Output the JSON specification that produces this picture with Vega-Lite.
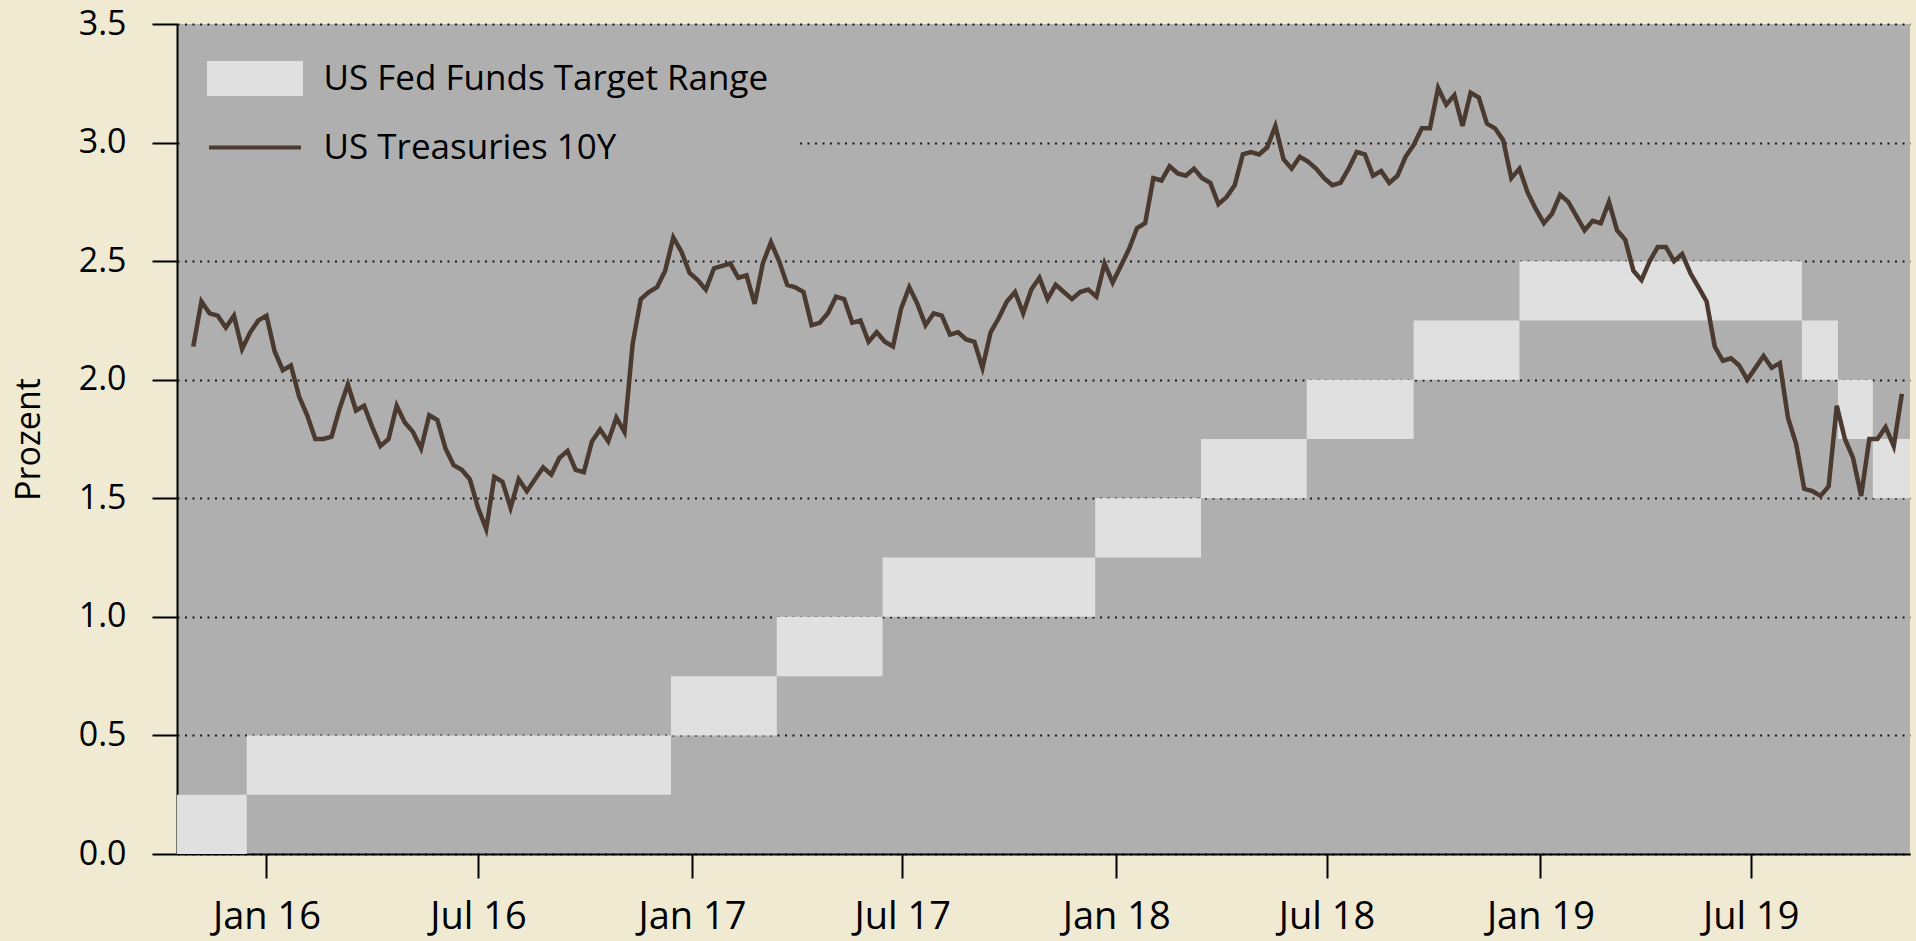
{
  "$schema": "https://vega.github.io/schema/vega-lite/v6.json",
  "width": 1733,
  "height": 830,
  "autosize": {"type": "none"},
  "padding": {"left": 177, "top": 24, "right": 6, "bottom": 87},
  "background": "#f0ead2",
  "config": {
    "view": {"fill": "#afafaf", "stroke": null},
    "font": "Open Sans",
    "axis": {
      "labelFont": "Open Sans",
      "labelFontSize": 34,
      "labelColor": "#000000",
      "titleFont": "Open Sans",
      "titleFontSize": 34,
      "titleFontWeight": "normal",
      "titleColor": "#000000",
      "domainColor": "#000000",
      "domainWidth": 2,
      "tickColor": "#000000",
      "tickWidth": 2,
      "zindex": 1
    }
  },
  "datasets": {
    "fed": [
      {"start": "2015-10-16", "end": "2015-12-15", "lo": 0.0, "hi": 0.25},
      {"start": "2015-12-15", "end": "2016-12-14", "lo": 0.25, "hi": 0.5},
      {"start": "2016-12-14", "end": "2017-03-15", "lo": 0.5, "hi": 0.75},
      {"start": "2017-03-15", "end": "2017-06-14", "lo": 0.75, "hi": 1.0},
      {"start": "2017-06-14", "end": "2017-12-14", "lo": 1.0, "hi": 1.25},
      {"start": "2017-12-14", "end": "2018-03-15", "lo": 1.25, "hi": 1.5},
      {"start": "2018-03-15", "end": "2018-06-14", "lo": 1.5, "hi": 1.75},
      {"start": "2018-06-14", "end": "2018-09-14", "lo": 1.75, "hi": 2.0},
      {"start": "2018-09-14", "end": "2018-12-14", "lo": 2.0, "hi": 2.25},
      {"start": "2018-12-14", "end": "2019-08-14", "lo": 2.25, "hi": 2.5},
      {"start": "2019-08-14", "end": "2019-09-14", "lo": 2.0, "hi": 2.25},
      {"start": "2019-09-14", "end": "2019-10-14", "lo": 1.75, "hi": 2.0},
      {"start": "2019-10-14", "end": "2019-11-15", "lo": 1.5, "hi": 1.75}
    ],
    "ust": [
      {"date": "2015-10-30", "value": 2.14}, {"date": "2015-11-06", "value": 2.33}, {"date": "2015-11-13", "value": 2.28}, {"date": "2015-11-20", "value": 2.27}, {"date": "2015-11-27", "value": 2.22},
      {"date": "2015-12-04", "value": 2.27}, {"date": "2015-12-11", "value": 2.13}, {"date": "2015-12-18", "value": 2.20}, {"date": "2015-12-25", "value": 2.25}, {"date": "2016-01-01", "value": 2.27},
      {"date": "2016-01-08", "value": 2.12}, {"date": "2016-01-15", "value": 2.04}, {"date": "2016-01-22", "value": 2.06}, {"date": "2016-01-29", "value": 1.93}, {"date": "2016-02-05", "value": 1.85},
      {"date": "2016-02-12", "value": 1.75}, {"date": "2016-02-19", "value": 1.75}, {"date": "2016-02-26", "value": 1.76}, {"date": "2016-03-04", "value": 1.88}, {"date": "2016-03-11", "value": 1.98},
      {"date": "2016-03-18", "value": 1.87}, {"date": "2016-03-25", "value": 1.89}, {"date": "2016-04-01", "value": 1.80}, {"date": "2016-04-08", "value": 1.72}, {"date": "2016-04-15", "value": 1.75},
      {"date": "2016-04-22", "value": 1.89}, {"date": "2016-04-29", "value": 1.82}, {"date": "2016-05-06", "value": 1.78}, {"date": "2016-05-13", "value": 1.71}, {"date": "2016-05-20", "value": 1.85},
      {"date": "2016-05-27", "value": 1.83}, {"date": "2016-06-03", "value": 1.71}, {"date": "2016-06-10", "value": 1.64}, {"date": "2016-06-17", "value": 1.62}, {"date": "2016-06-24", "value": 1.58},
      {"date": "2016-07-01", "value": 1.46}, {"date": "2016-07-08", "value": 1.37}, {"date": "2016-07-15", "value": 1.59}, {"date": "2016-07-22", "value": 1.57}, {"date": "2016-07-29", "value": 1.46},
      {"date": "2016-08-05", "value": 1.58}, {"date": "2016-08-12", "value": 1.53}, {"date": "2016-08-19", "value": 1.58}, {"date": "2016-08-26", "value": 1.63}, {"date": "2016-09-02", "value": 1.60},
      {"date": "2016-09-09", "value": 1.67}, {"date": "2016-09-16", "value": 1.70}, {"date": "2016-09-23", "value": 1.62}, {"date": "2016-09-30", "value": 1.61}, {"date": "2016-10-07", "value": 1.74},
      {"date": "2016-10-14", "value": 1.79}, {"date": "2016-10-21", "value": 1.74}, {"date": "2016-10-28", "value": 1.84}, {"date": "2016-11-04", "value": 1.78}, {"date": "2016-11-11", "value": 2.15},
      {"date": "2016-11-18", "value": 2.34}, {"date": "2016-11-25", "value": 2.37}, {"date": "2016-12-02", "value": 2.39}, {"date": "2016-12-09", "value": 2.46}, {"date": "2016-12-16", "value": 2.60},
      {"date": "2016-12-23", "value": 2.54}, {"date": "2016-12-30", "value": 2.45}, {"date": "2017-01-06", "value": 2.42}, {"date": "2017-01-13", "value": 2.38}, {"date": "2017-01-20", "value": 2.47},
      {"date": "2017-01-27", "value": 2.48}, {"date": "2017-02-03", "value": 2.49}, {"date": "2017-02-10", "value": 2.43}, {"date": "2017-02-17", "value": 2.44}, {"date": "2017-02-24", "value": 2.32},
      {"date": "2017-03-03", "value": 2.49}, {"date": "2017-03-10", "value": 2.58}, {"date": "2017-03-17", "value": 2.50}, {"date": "2017-03-24", "value": 2.40}, {"date": "2017-03-31", "value": 2.39},
      {"date": "2017-04-07", "value": 2.37}, {"date": "2017-04-14", "value": 2.23}, {"date": "2017-04-21", "value": 2.24}, {"date": "2017-04-28", "value": 2.28}, {"date": "2017-05-05", "value": 2.35},
      {"date": "2017-05-12", "value": 2.34}, {"date": "2017-05-19", "value": 2.24}, {"date": "2017-05-26", "value": 2.25}, {"date": "2017-06-02", "value": 2.16}, {"date": "2017-06-09", "value": 2.20},
      {"date": "2017-06-16", "value": 2.16}, {"date": "2017-06-23", "value": 2.14}, {"date": "2017-06-30", "value": 2.30}, {"date": "2017-07-07", "value": 2.39}, {"date": "2017-07-14", "value": 2.32},
      {"date": "2017-07-21", "value": 2.23}, {"date": "2017-07-28", "value": 2.28}, {"date": "2017-08-04", "value": 2.27}, {"date": "2017-08-11", "value": 2.19}, {"date": "2017-08-18", "value": 2.20},
      {"date": "2017-08-25", "value": 2.17}, {"date": "2017-09-01", "value": 2.16}, {"date": "2017-09-08", "value": 2.05}, {"date": "2017-09-15", "value": 2.20}, {"date": "2017-09-22", "value": 2.26},
      {"date": "2017-09-29", "value": 2.33}, {"date": "2017-10-06", "value": 2.37}, {"date": "2017-10-13", "value": 2.28}, {"date": "2017-10-20", "value": 2.38}, {"date": "2017-10-27", "value": 2.43},
      {"date": "2017-11-03", "value": 2.34}, {"date": "2017-11-10", "value": 2.40}, {"date": "2017-11-17", "value": 2.37}, {"date": "2017-11-24", "value": 2.34}, {"date": "2017-12-01", "value": 2.37},
      {"date": "2017-12-08", "value": 2.38}, {"date": "2017-12-15", "value": 2.35}, {"date": "2017-12-22", "value": 2.49}, {"date": "2017-12-29", "value": 2.41}, {"date": "2018-01-05", "value": 2.48},
      {"date": "2018-01-12", "value": 2.55}, {"date": "2018-01-19", "value": 2.64}, {"date": "2018-01-26", "value": 2.66}, {"date": "2018-02-02", "value": 2.85}, {"date": "2018-02-09", "value": 2.84},
      {"date": "2018-02-16", "value": 2.90}, {"date": "2018-02-23", "value": 2.87}, {"date": "2018-03-02", "value": 2.86}, {"date": "2018-03-09", "value": 2.89}, {"date": "2018-03-16", "value": 2.85},
      {"date": "2018-03-23", "value": 2.83}, {"date": "2018-03-30", "value": 2.74}, {"date": "2018-04-06", "value": 2.77}, {"date": "2018-04-13", "value": 2.82}, {"date": "2018-04-20", "value": 2.95},
      {"date": "2018-04-27", "value": 2.96}, {"date": "2018-05-04", "value": 2.95}, {"date": "2018-05-11", "value": 2.98}, {"date": "2018-05-18", "value": 3.07}, {"date": "2018-05-25", "value": 2.93},
      {"date": "2018-06-01", "value": 2.89}, {"date": "2018-06-08", "value": 2.94}, {"date": "2018-06-15", "value": 2.92}, {"date": "2018-06-22", "value": 2.89}, {"date": "2018-06-29", "value": 2.85},
      {"date": "2018-07-06", "value": 2.82}, {"date": "2018-07-13", "value": 2.83}, {"date": "2018-07-20", "value": 2.89}, {"date": "2018-07-27", "value": 2.96}, {"date": "2018-08-03", "value": 2.95},
      {"date": "2018-08-10", "value": 2.86}, {"date": "2018-08-17", "value": 2.88}, {"date": "2018-08-24", "value": 2.83}, {"date": "2018-08-31", "value": 2.86}, {"date": "2018-09-07", "value": 2.94},
      {"date": "2018-09-14", "value": 2.99}, {"date": "2018-09-21", "value": 3.06}, {"date": "2018-09-28", "value": 3.06}, {"date": "2018-10-05", "value": 3.23}, {"date": "2018-10-12", "value": 3.16},
      {"date": "2018-10-19", "value": 3.20}, {"date": "2018-10-26", "value": 3.07}, {"date": "2018-11-02", "value": 3.21}, {"date": "2018-11-09", "value": 3.19}, {"date": "2018-11-16", "value": 3.08},
      {"date": "2018-11-23", "value": 3.06}, {"date": "2018-11-30", "value": 3.01}, {"date": "2018-12-07", "value": 2.85}, {"date": "2018-12-14", "value": 2.89}, {"date": "2018-12-21", "value": 2.79},
      {"date": "2018-12-28", "value": 2.72}, {"date": "2019-01-04", "value": 2.66}, {"date": "2019-01-11", "value": 2.70}, {"date": "2019-01-18", "value": 2.78}, {"date": "2019-01-25", "value": 2.75},
      {"date": "2019-02-01", "value": 2.69}, {"date": "2019-02-08", "value": 2.63}, {"date": "2019-02-15", "value": 2.67}, {"date": "2019-02-22", "value": 2.66}, {"date": "2019-03-01", "value": 2.75},
      {"date": "2019-03-08", "value": 2.63}, {"date": "2019-03-15", "value": 2.59}, {"date": "2019-03-22", "value": 2.46}, {"date": "2019-03-29", "value": 2.42}, {"date": "2019-04-05", "value": 2.50},
      {"date": "2019-04-12", "value": 2.56}, {"date": "2019-04-19", "value": 2.56}, {"date": "2019-04-26", "value": 2.50}, {"date": "2019-05-03", "value": 2.53}, {"date": "2019-05-10", "value": 2.45},
      {"date": "2019-05-17", "value": 2.39}, {"date": "2019-05-24", "value": 2.33}, {"date": "2019-05-31", "value": 2.14}, {"date": "2019-06-07", "value": 2.08}, {"date": "2019-06-14", "value": 2.09},
      {"date": "2019-06-21", "value": 2.06}, {"date": "2019-06-28", "value": 2.00}, {"date": "2019-07-05", "value": 2.05}, {"date": "2019-07-12", "value": 2.10}, {"date": "2019-07-19", "value": 2.05},
      {"date": "2019-07-26", "value": 2.07}, {"date": "2019-08-02", "value": 1.84}, {"date": "2019-08-09", "value": 1.73}, {"date": "2019-08-16", "value": 1.54}, {"date": "2019-08-23", "value": 1.53},
      {"date": "2019-08-30", "value": 1.51}, {"date": "2019-09-06", "value": 1.55}, {"date": "2019-09-13", "value": 1.89}, {"date": "2019-09-20", "value": 1.75}, {"date": "2019-09-27", "value": 1.67},
      {"date": "2019-10-04", "value": 1.51}, {"date": "2019-10-11", "value": 1.75}, {"date": "2019-10-18", "value": 1.75}, {"date": "2019-10-25", "value": 1.80}, {"date": "2019-11-01", "value": 1.72},
      {"date": "2019-11-08", "value": 1.94}
    ]
  },
  "layer": [
    {
      "data": {"name": "fed"},
      "mark": {"type": "rect", "clip": true},
      "encoding": {
        "x": {
          "field": "start", "type": "temporal",
          "scale": {"domain": [{"year": 2015, "month": 10, "date": 16, "utc": true}, {"year": 2019, "month": 11, "date": 15, "utc": true}]},
          "axis": {
            "title": null, "format": "%b %y", "tickCount": {"interval": "month", "step": 6},
            "tickSize": 24, "labelPadding": 20, "labelFontSize": 38, "grid": false, "labelFlush": false
          }
        },
        "x2": {"field": "end"},
        "y": {
          "field": "lo", "type": "quantitative",
          "scale": {"domain": [0, 3.5], "nice": false, "zero": true},
          "axis": {
            "title": "Prozent", "values": [0, 0.5, 1, 1.5, 2, 2.5, 3, 3.5], "format": ".1f",
            "tickSize": 25, "labelPadding": 26, "titlePadding": 32,
            "grid": true, "gridColor": "#000000", "gridDash": [2, 5.5], "gridWidth": 2, "gridOpacity": 0.85
          }
        },
        "y2": {"field": "hi"},
        "color": {
          "datum": "US Fed Funds Target Range", "type": "nominal",
          "scale": {"domain": ["US Fed Funds Target Range", "US Treasuries 10Y"], "range": ["#e0e0e0", "#4a3a2f"]},
          "legend": {
            "title": null, "orient": "none", "legendX": 3, "legendY": 10, "padding": 27,
            "fillColor": "#afafaf", "strokeColor": null, "zindex": 2,
            "symbolType": "M-2.968,-1H2.968V1H-2.968Z", "symbolSize": 961, "symbolOffset": 30.5,
            "labelFont": "Open Sans", "labelFontSize": 35, "labelColor": "#000000", "labelLimit": 0,
            "labelOffset": 51, "rowPadding": 28,
            "encode": {
              "symbols": {
                "update": {
                  "shape": {"signal": "datum.value === 'US Treasuries 10Y' ? 'M-2.968,0H2.968' : 'M-2.968,-1H2.968V1H-2.968Z'"},
                  "fill": {"signal": "datum.value === 'US Treasuries 10Y' ? 'transparent' : '#e0e0e0'"},
                  "stroke": {"signal": "datum.value === 'US Treasuries 10Y' ? '#4a3a2f' : 'transparent'"},
                  "strokeWidth": {"value": 4},
                  "opacity": {"value": 1}
                }
              }
            }
          }
        }
      }
    },
    {
      "data": {"name": "ust"},
      "mark": {"type": "line", "strokeWidth": 4.5, "strokeJoin": "miter", "clip": true},
      "encoding": {
        "x": {"field": "date", "type": "temporal"},
        "y": {"field": "value", "type": "quantitative"},
        "color": {"datum": "US Treasuries 10Y", "type": "nominal"}
      }
    }
  ]
}
